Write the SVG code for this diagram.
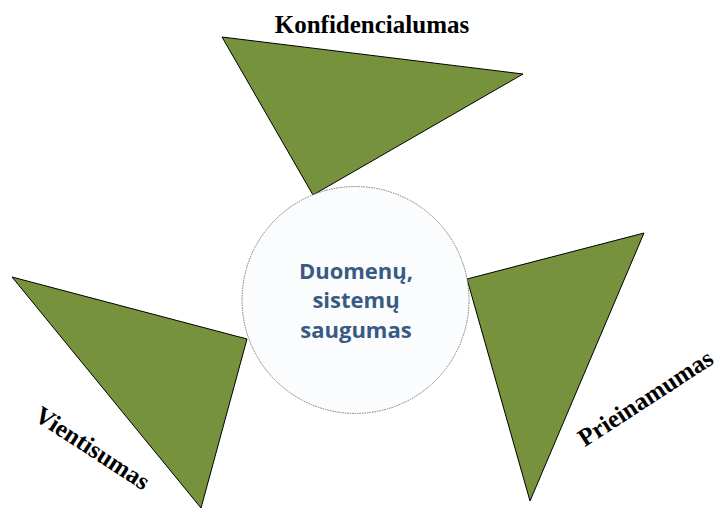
<svg xmlns="http://www.w3.org/2000/svg" width="721" height="512" viewBox="0 0 721 512">
  <style>
    .tri { fill: #77923c; stroke: #000; stroke-width: 1; stroke-linejoin: miter; }
    .lbl { font-family: "Liberation Serif", "Times New Roman", serif; font-weight: bold; font-size: 25px; fill: #000; text-anchor: middle; }
    .core { fill: #fafcfe; stroke: #777; stroke-width: 1; stroke-dasharray: 1.5 1; }
    .coretxt { font-family: "Open Sans", "Liberation Sans", sans-serif; font-weight: bold; font-size: 22px; fill: #395a82; text-anchor: middle; }
  </style>
  <rect width="721" height="512" fill="#fff"/>

  <g id="konfidencialumas">
    <polygon class="tri" points="222,37 523,74 313,195"/>
    <text class="lbl" x="372" y="33">Konfidencialumas</text>
  </g>

  <g id="vientisumas">
    <polygon class="tri" points="12,277 247,339 201,508"/>
    <text class="lbl" transform="translate(88,455) rotate(33)">Vientisumas</text>
  </g>

  <g id="prieinamumas">
    <polygon class="tri" points="467,279 644,233 530,501"/>
    <text class="lbl" transform="translate(650,405) rotate(-33)">Prieinamumas</text>
  </g>

  <g id="saugumas">
    <circle class="core" cx="355.5" cy="300" r="113.5"/>
    <text class="coretxt" x="356" y="279">Duomenų,</text>
    <text class="coretxt" x="356" y="308">sistemų</text>
    <text class="coretxt" x="356" y="338">saugumas</text>
  </g>
</svg>
